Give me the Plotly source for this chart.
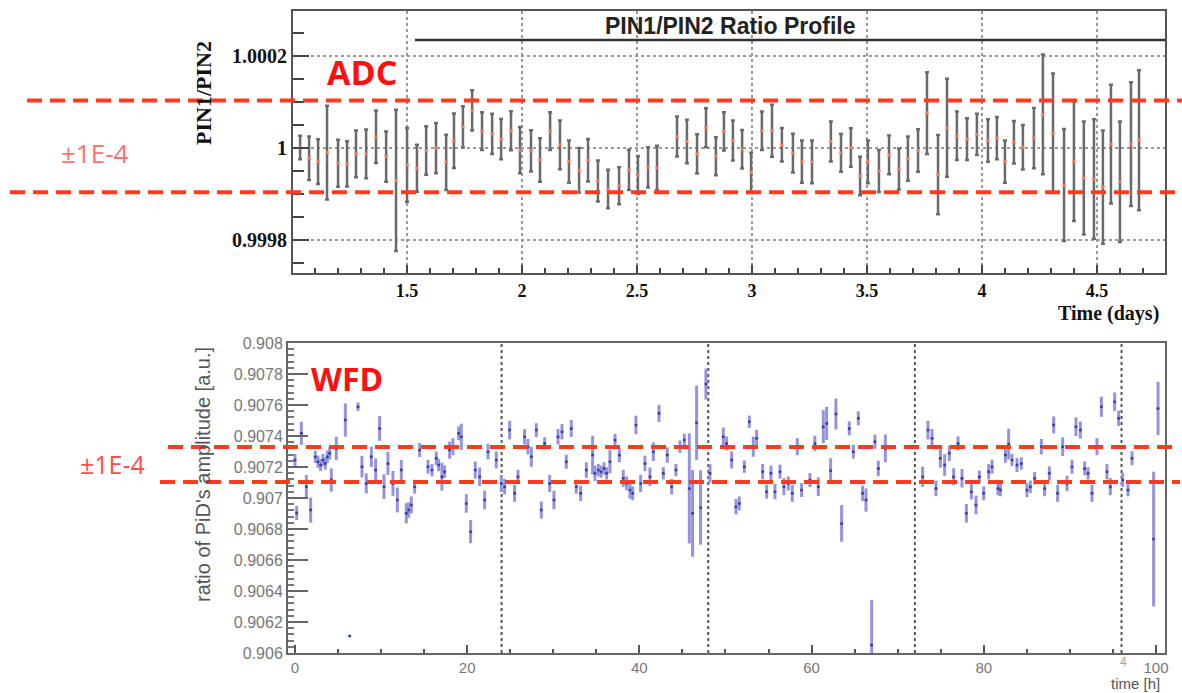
import plotly.graph_objects as go

# ---------------- ADC (top) data : time in days, deviation from 1 in units of 1e-4 ----------------
adc_day = [1.035, 1.074, 1.113, 1.152, 1.200, 1.239, 1.278, 1.322, 1.365, 1.409, 1.452, 1.500, 1.543,
           1.583, 1.626, 1.670, 1.704, 1.743, 1.783, 1.826, 1.870, 1.909, 1.952, 1.991, 2.039, 2.078,
           2.122, 2.165, 2.204, 2.248, 2.287, 2.330, 2.374, 2.422, 2.465, 2.504, 2.548, 2.587, 2.674,
           2.717, 2.761, 2.800, 2.843, 2.878, 2.917, 2.957, 2.996, 3.043, 3.087, 3.130, 3.178, 3.217,
           3.261, 3.343, 3.387, 3.430, 3.470, 3.504, 3.552, 3.596, 3.639, 3.678, 3.722, 3.761, 3.809,
           3.848, 3.891, 3.935, 3.978, 4.026, 4.065, 4.100, 4.139, 4.178, 4.226, 4.265, 4.309, 4.357,
           4.400, 4.443, 4.487, 4.526, 4.561, 4.600, 4.648, 4.683]
adc_dev_1e4 = [0.015, -0.219, -0.292, -0.095, -0.328, -0.343, -0.124, -0.124, 0.248, -0.182, -0.701,
               -0.365, -0.438, -0.051, 0.0, -0.307, 0.161, 0.467, 0.825, 0.372, 0.314, 0.197, 0.380,
               -0.044, -0.058, -0.255, 0.372, 0.073, -0.292, -0.482, -0.263, -0.715, -0.891, -0.818,
               -0.474, -0.584, -0.416, -0.431, 0.255, 0.146, -0.124, 0.445, -0.175, 0.365, 0.168,
               -0.022, -0.526, 0.380, 0.380, 0.073, -0.109, -0.292, -0.299, 0.146, -0.102, 0.015,
               -0.606, -0.299, -0.496, -0.146, -0.453, -0.226, -0.051, 0.766, -0.577, 0.445, 0.270,
               0.197, 0.299, 0.168, 0.219, -0.292, 0.131, 0.022, 0.219, 0.737, 0.328, -0.803, -0.285,
               -0.650, -0.672, -0.847, 0.088, -0.730, 0.088, 0.175]
adc_err_1e4 = [0.255, 0.474, 0.489, 1.022, 0.511, 0.493, 0.511, 0.529, 0.573, 0.547, 1.540, 0.803,
               0.511, 0.529, 0.547, 0.602, 0.595, 0.445, 0.438, 0.409, 0.438, 0.438, 0.427, 0.504,
               0.449, 0.474, 0.409, 0.533, 0.460, 0.485, 0.464, 0.449, 0.420, 0.401, 0.438, 0.416,
               0.438, 0.482, 0.438, 0.474, 0.427, 0.427, 0.412, 0.416, 0.438, 0.420, 0.427, 0.420,
               0.566, 0.365, 0.423, 0.460, 0.467, 0.438, 0.412, 0.420, 0.420, 0.467, 0.456, 0.420,
               0.449, 0.482, 0.464, 0.891, 0.865, 1.066, 0.529, 0.456, 0.449, 0.464, 0.460, 0.460,
               0.464, 0.485, 0.657, 1.303, 1.299, 1.219, 1.303, 1.230, 1.303, 1.234, 1.296, 1.314,
               1.350, 1.526]
adc_band = [1.000104, 0.999904]

# ---------------- WFD (bottom) data : time in hours, ratio, error in units of 1e-4 ----------------
wfd_hour = [0.0, 0.2, 0.74, 1.32, 1.82, 2.36, 2.67, 2.98, 3.25, 3.52, 3.76, 4.03, 4.22, 4.80, 5.85,
            6.35, 7.32, 7.78, 8.28, 8.87, 9.37, 9.83, 10.34, 10.80, 11.38, 11.89, 12.35, 12.93, 13.20,
            13.51, 13.90, 14.48, 15.45, 15.91, 16.41, 16.69, 17.07, 17.38, 17.96, 18.35, 19.01, 19.32,
            19.90, 20.40, 20.94, 21.45, 22.03, 22.42, 23.38, 23.96, 24.35, 24.93, 25.51, 25.90, 26.67,
            27.06, 27.45, 28.03, 28.61, 29.00, 29.58, 30.08, 30.55, 31.01, 31.51, 32.09, 32.67, 33.18,
            33.84, 34.57, 34.84, 35.23, 35.54, 35.89, 36.20, 36.58, 37.17, 37.67, 38.13, 38.52, 38.91,
            39.22, 39.60, 40.15, 40.65, 41.23, 41.62, 42.28, 42.78, 43.24, 43.75, 44.25, 44.71, 45.22,
            45.80, 46.18, 46.65, 47.11, 47.73, 48.20, 49.75, 50.13, 50.72, 51.22, 51.60, 52.19, 52.77,
            53.23, 53.62, 54.32, 54.78, 55.28, 55.75, 56.33, 56.79, 57.30, 57.76, 58.34, 58.84, 59.81,
            60.39, 60.78, 61.36, 61.75, 62.21, 62.83, 63.49, 64.38, 64.85, 65.43, 65.93, 66.32, 66.98,
            67.36, 67.75, 68.57, 72.90, 73.52, 73.99, 74.45, 74.96, 75.46, 76.00, 76.50, 77.01, 77.47,
            77.98, 78.56, 79.10, 79.49, 79.99, 80.57, 80.96, 81.65, 81.93, 82.51, 82.89, 83.28, 83.86,
            84.36, 85.02, 85.41, 85.91, 86.69, 87.07, 87.62, 88.12, 88.58, 89.16, 89.67, 90.25, 90.71,
            91.22, 91.72, 92.11, 92.57, 93.15, 93.66, 94.31, 94.70, 95.20, 95.67, 96.13, 96.75, 97.22,
            99.73, 100.24]
wfd_ratio = [0.907245, 0.906903, 0.907417, 0.907073, 0.906922, 0.907266, 0.907234, 0.907213, 0.907245,
             0.907223, 0.907266, 0.907288, 0.907116, 0.907320, 0.907503, 0.906109, 0.907589, 0.907202,
             0.907094, 0.907266, 0.907180, 0.907449, 0.907073, 0.907223, 0.907094, 0.906987, 0.907180,
             0.906901, 0.906922, 0.906955, 0.907073, 0.907309, 0.907202, 0.907180, 0.907256, 0.907213,
             0.907137, 0.907170, 0.907309, 0.907331, 0.907417, 0.907395, 0.906965, 0.906783, 0.907180,
             0.907137, 0.906987, 0.907299, 0.907245, 0.907094, 0.907073, 0.907438, 0.907030, 0.907137,
             0.907395, 0.907331, 0.907266, 0.907438, 0.906922, 0.907352, 0.907094, 0.906987, 0.907395,
             0.907428, 0.907234, 0.907449, 0.907073, 0.907030, 0.907180, 0.907277, 0.907159, 0.907180,
             0.907170, 0.907191, 0.907159, 0.907234, 0.907374, 0.907277, 0.907127, 0.907094, 0.907051,
             0.907030, 0.907471, 0.907094, 0.907223, 0.907137, 0.907299, 0.907546, 0.907159, 0.907277,
             0.907073, 0.907180, 0.907331, 0.907374, 0.907062, 0.906901, 0.907486, 0.906939, 0.907735,
             0.907159, 0.907395, 0.907352, 0.907245, 0.906944, 0.906965, 0.907202, 0.907492, 0.907331,
             0.907385, 0.907170, 0.907041, 0.907159, 0.907041, 0.907170, 0.907073, 0.907094, 0.907030,
             0.907331, 0.907051, 0.907116, 0.907352, 0.907073, 0.907460, 0.907481, 0.907176, 0.907542,
             0.906836, 0.907449, 0.907299, 0.907514, 0.907030, 0.906987, 0.906051, 0.907363, 0.907191,
             0.907320, 0.907137, 0.907438, 0.907385, 0.907062, 0.907256, 0.907213, 0.907288, 0.907137,
             0.907352, 0.907127, 0.906901, 0.907041, 0.906955, 0.907137, 0.907030, 0.907170, 0.907202,
             0.907062, 0.907051, 0.907277, 0.907348, 0.907245, 0.907213, 0.907223, 0.907051, 0.907073,
             0.907127, 0.907331, 0.907062, 0.907159, 0.907471, 0.907030, 0.907331, 0.907094, 0.907202,
             0.907460, 0.907438, 0.907191, 0.907159, 0.907030, 0.907331, 0.907589, 0.907170, 0.907073,
             0.907621, 0.907514, 0.907116, 0.907051, 0.907256, 0.906735, 0.907578]
wfd_err_1e4 = [0.4, 0.45, 0.75, 0.75, 0.81, 0.4, 0.4, 0.4, 0.4, 0.4, 0.4, 0.4, 0.75, 0.75, 1.07, 0.05,
               0.27, 0.7, 0.65, 0.65, 0.75, 0.8, 0.8, 0.75, 0.8, 0.8, 0.65, 0.65, 0.5, 0.55, 0.45, 0.45,
               0.45, 0.4, 0.45, 0.4, 0.9, 0.4, 0.55, 0.55, 0.45, 0.85, 0.6, 0.75, 0.55, 0.6, 0.6, 0.5,
               0.55, 0.55, 0.5, 0.6, 0.55, 0.45, 0.5, 0.5, 0.65, 0.45, 0.55, 0.4, 0.55, 0.6, 0.5, 0.5,
               0.45, 0.55, 0.45, 0.5, 0.5, 1.24, 0.5, 0.4, 0.4, 0.4, 0.4, 0.75, 0.4, 0.45, 0.55, 0.45,
               0.55, 0.45, 0.6, 0.55, 0.5, 0.6, 0.6, 0.55, 0.4, 0.5, 0.5, 0.4, 0.4, 0.4, 3.55, 2.8, 2.4,
               2.4, 1.0, 0.6, 0.6, 0.45, 0.55, 0.5, 0.45, 0.4, 0.4, 0.65, 0.55, 0.5, 0.45, 0.5, 0.5,
               0.45, 0.55, 0.45, 0.55, 0.55, 0.45, 0.45, 0.5, 0.6, 1.07, 1.07, 0.8, 1.0, 1.18, 0.45,
               0.45, 0.45, 0.5, 0.75, 2.9, 0.45, 0.5, 0.9, 0.65, 0.6, 0.6, 0.5, 0.6, 0.7, 0.5, 0.55,
               0.45, 0.6, 0.6, 0.5, 0.6, 0.4, 0.45, 0.5, 0.45, 0.45, 0.4, 0.5, 1.0, 0.4, 0.45, 0.4,
               0.45, 0.4, 0.4, 0.5, 0.5, 0.45, 0.55, 0.55, 0.6, 0.5, 0.45, 0.6, 0.55, 0.45, 0.4, 0.55,
               0.55, 0.65, 0.5, 0.55, 0.6, 0.5, 0.45, 0.4, 0.45, 4.35, 1.72]
wfd_band = [0.907329, 0.907103]
wfd_day_marks = [24, 48, 72, 96]

assert len(adc_day) == len(adc_dev_1e4) == len(adc_err_1e4)
assert len(wfd_hour) == len(wfd_ratio) == len(wfd_err_1e4)

adc_ratio = [1 + d * 1e-4 for d in adc_dev_1e4]
adc_err = [e * 1e-4 for e in adc_err_1e4]
wfd_err = [e * 1e-4 for e in wfd_err_1e4]

W, H = 1182, 693
def px(x):
    return x / W
def py(y):
    return 1 - y / H

SERIF = "Liberation Serif, Times New Roman, serif"
SANS = "Liberation Sans, Arial, sans-serif"
LBL = "Open Sans, sans-serif"
RED = "#ff3b1f"
DASH = "15px,8px"

fig = go.Figure()

fig.add_trace(go.Scatter(
    x=adc_day, y=adc_ratio, mode="markers", xaxis="x", yaxis="y",
    marker=dict(symbol="square", size=3, color="#f7785c"),
    error_y=dict(type="data", array=adc_err, color="#6a6a6a", thickness=2.5, width=2),
    showlegend=False, hoverinfo="x+y"))

fig.add_trace(go.Scatter(
    x=wfd_hour, y=wfd_ratio, mode="markers", xaxis="x2", yaxis="y2",
    marker=dict(symbol="circle", size=3, color="#3c3caa"),
    error_y=dict(type="data", array=wfd_err, color="#9494de", thickness=3, width=0),
    showlegend=False, hoverinfo="x+y"))

shapes = []
for h in wfd_day_marks:
    shapes.append(dict(type="line", xref="x2", yref="y2 domain", x0=h, x1=h, y0=0, y1=1,
                       line=dict(color="#555", width=2, dash="dot"), layer="below"))
shapes.append(dict(type="line", xref="paper", yref="paper", x0=px(415), x1=px(1165),
                   y0=py(40), y1=py(40), line=dict(color="#333", width=2.5)))
shapes.append(dict(type="line", xref="paper", yref="y", x0=px(27), x1=1.0,
                   y0=adc_band[0], y1=adc_band[0], line=dict(color=RED, width=4, dash=DASH)))
shapes.append(dict(type="line", xref="paper", yref="y", x0=px(10), x1=1.0,
                   y0=adc_band[1], y1=adc_band[1], line=dict(color=RED, width=4, dash=DASH)))
shapes.append(dict(type="line", xref="paper", yref="y2", x0=px(168), x1=px(1180),
                   y0=wfd_band[0], y1=wfd_band[0], line=dict(color=RED, width=4, dash=DASH)))
shapes.append(dict(type="line", xref="paper", yref="y2", x0=px(160), x1=px(1180),
                   y0=wfd_band[1], y1=wfd_band[1], line=dict(color=RED, width=4, dash=DASH)))

def ann(text, x, y, size, color, family, bold=False, xanchor="center", angle=0):
    return dict(text=text, x=px(x), y=py(y), xref="paper", yref="paper", showarrow=False,
                xanchor=xanchor, yanchor="middle", textangle=angle,
                font=dict(family=family, size=size, color=color, weight="bold" if bold else "normal"))

annotations = [
    ann("PIN1/PIN2 Ratio Profile", 730, 26, 23, "#222", SANS, bold=True),
    ann("PIN1/PIN2", 203, 93, 22, "#111", SERIF, bold=True, angle=-90),
    ann("Time (days)", 1161, 313, 20, "#111", SERIF, bold=True, xanchor="right"),
    ann("ADC", 362, 72, 34, "#ff1010", LBL, bold=True),
    ann("±1E-4", 95, 153, 26, "#ff7070", LBL),
    ann("WFD", 347, 378, 32, "#ff1010", LBL, bold=True),
    ann("±1E-4", 112, 464, 25, "#ff4d4d", LBL),
    ann("ratio of PiD's amplitude [a.u.]", 203, 475, 20, "#555", SANS, angle=-90),
    ann("time [h]", 1162, 683, 15, "#555", SANS, xanchor="right"),
    ann("4", 1123, 662, 12, "#b0a090", SANS),
]

fig.update_layout(
    width=W, height=H, margin=dict(l=0, r=0, t=0, b=0, pad=0, autoexpand=False),
    paper_bgcolor="white", plot_bgcolor="white", showlegend=False,
    shapes=shapes, annotations=annotations,
    xaxis=dict(domain=[px(293), px(1165)], range=[1.004, 4.796], anchor="y", automargin=False,
               tickvals=[1.5, 2, 2.5, 3, 3.5, 4, 4.5], ticktext=["1.5", "2", "2.5", "3", "3.5", "4", "4.5"],
               ticks="inside", ticklen=8, tickcolor="#444", tickwidth=1.5,
               minor=dict(dtick=0.1, ticks="inside", ticklen=5, tickcolor="#444", showgrid=False),
               showgrid=True, gridcolor="#999", griddash="dot", gridwidth=1.5,
               showline=True, mirror=True, linecolor="#555", linewidth=2, zeroline=False,
               tickfont=dict(family=SERIF, size=18, color="#111", weight="bold")),
    yaxis=dict(domain=[py(273), py(11)], range=[0.999728, 1.000299], anchor="x", automargin=False,
               tickvals=[0.9998, 1.0, 1.0002], ticktext=["0.9998", "1", "1.0002"],
               ticks="inside", ticklen=16, tickcolor="#444", tickwidth=2,
               minor=dict(dtick=0.00005, ticks="inside", ticklen=11, tickcolor="#444", showgrid=False),
               showgrid=True, gridcolor="#999", griddash="dot", gridwidth=1.5,
               showline=True, mirror=True, linecolor="#555", linewidth=2, zeroline=False,
               tickfont=dict(family=SERIF, size=20, color="#111", weight="bold")),
    xaxis2=dict(domain=[px(288), px(1165)], range=[-0.81, 101.05], anchor="y2", automargin=False,
                tickvals=[0, 20, 40, 60, 80, 100],
                ticks="inside", ticklen=8, tickcolor="#555", tickwidth=1.5,
                minor=dict(dtick=5, ticks="inside", ticklen=4, tickcolor="#555", showgrid=False),
                showgrid=False, showline=True, mirror=True, linecolor="#666", linewidth=2,
                zeroline=False, tickfont=dict(family=SANS, size=15, color="#777")),
    yaxis2=dict(domain=[py(653), py(343)], range=[0.906, 0.908], anchor="x2", automargin=False,
                tickvals=[0.906 + 0.0002 * i for i in range(11)],
                ticktext=["0.906", "0.9062", "0.9064", "0.9066", "0.9068", "0.907", "0.9072",
                          "0.9074", "0.9076", "0.9078", "0.908"],
                ticks="inside", ticklen=20, tickcolor="#666", tickwidth=1.5,
                minor=dict(dtick=0.00004, ticks="inside", ticklen=6, tickcolor="#777", showgrid=False),
                showgrid=False, showline=True, mirror=True, linecolor="#666", linewidth=2,
                zeroline=False, tickfont=dict(family=SANS, size=16, color="#777")),
)

fig.write_html("out.html")
